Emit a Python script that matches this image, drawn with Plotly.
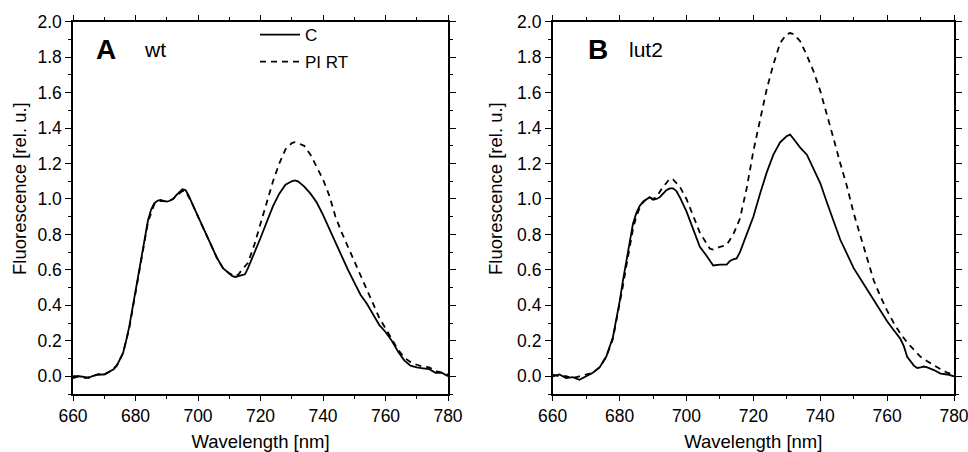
import plotly.graph_objects as go

# ---------------- data ----------------
wl_A_C = [660, 662, 664, 665, 666, 668, 670, 671, 672, 673, 674, 676, 677, 678, 679, 680, 681, 682, 683, 684,
          685, 686, 687, 688, 689, 690, 691, 692, 693, 694, 695, 696, 697, 698, 700, 702, 704, 706, 708, 710,
          711, 712, 713, 714, 715, 716, 718, 720, 722, 724, 726, 728, 730, 731, 732, 734, 736, 738, 740, 742,
          744, 746, 748, 750, 752, 754, 756, 758, 760, 762, 764, 766, 768, 770, 772, 774, 776, 778, 780]
val_A_C = [0.0, 0.0, -0.005, -0.01, 0.0, 0.01, 0.01, 0.02, 0.03, 0.04, 0.06, 0.13, 0.2, 0.28, 0.38, 0.48, 0.6, 0.7, 0.8, 0.88,
           0.94, 0.975, 0.99, 0.995, 0.99, 0.985, 0.99, 1.0, 1.02, 1.04, 1.055, 1.05, 1.02, 0.98, 0.9, 0.82, 0.74, 0.67, 0.61, 0.58,
           0.565, 0.56, 0.565, 0.57, 0.575, 0.61, 0.69, 0.78, 0.87, 0.96, 1.03, 1.08, 1.1, 1.105, 1.1, 1.07, 1.03, 0.98, 0.91, 0.83,
           0.76, 0.68, 0.6, 0.53, 0.46, 0.41, 0.35, 0.29, 0.25, 0.2, 0.14, 0.09, 0.06, 0.05, 0.045, 0.04, 0.02, 0.02, 0.0]

wl_A_PI = [660, 662, 664, 666, 668, 670, 672, 674, 676, 678, 680, 682, 684, 686, 688, 690, 692, 694, 695, 696,
           698, 700, 702, 704, 706, 708, 710, 712, 713, 714, 716, 718, 720, 722, 724, 726, 728, 730, 731, 732,
           734, 736, 738, 740, 742, 744, 746, 748, 750, 752, 754, 756, 758, 760, 762, 764, 766, 768, 770, 772,
           774, 776, 778, 780]
val_A_PI = [-0.01, 0.0, -0.01, 0.0, 0.01, 0.01, 0.03, 0.06, 0.13, 0.27, 0.47, 0.69, 0.87, 0.97, 0.99, 0.985, 1.0, 1.03, 1.045, 1.045,
            0.98, 0.9, 0.82, 0.74, 0.67, 0.61, 0.58, 0.565, 0.575, 0.6, 0.64, 0.74, 0.86, 0.97, 1.1, 1.2, 1.28, 1.315, 1.32, 1.315,
            1.3, 1.25, 1.18, 1.11, 1.02, 0.9, 0.81, 0.73, 0.65, 0.56, 0.48, 0.4, 0.33, 0.27, 0.21, 0.15, 0.105, 0.08, 0.065, 0.055,
            0.05, 0.03, 0.02, 0.01]

wl_B_C = [660, 662, 664, 666, 668, 670, 672, 674, 676, 678, 679, 680, 681, 682, 683, 684, 685, 686, 687, 688,
          689, 690, 691, 692, 693, 694, 695, 696, 697, 698, 700, 702, 704, 706, 707, 708, 710, 712, 713, 714,
          715, 716, 718, 720, 722, 724, 726, 728, 730, 731, 732, 734, 736, 738, 740, 742, 744, 746, 748, 750,
          752, 754, 756, 758, 760, 762, 764, 765, 766, 768, 769, 770, 771, 772, 774, 776, 778, 780]
val_B_C = [0.0, 0.01, -0.01, -0.005, -0.02, 0.0, 0.02, 0.05, 0.11, 0.22, 0.31, 0.42, 0.54, 0.65, 0.77, 0.86, 0.92, 0.96, 0.985, 1.0,
           1.01, 0.995, 1.0, 1.01, 1.03, 1.05, 1.06, 1.06, 1.045, 1.01, 0.93, 0.83, 0.73, 0.68, 0.65, 0.625, 0.63, 0.63, 0.65, 0.66,
           0.665, 0.7, 0.8, 0.9, 1.03, 1.15, 1.25, 1.32, 1.355, 1.363, 1.34, 1.29, 1.25, 1.17, 1.09, 0.98, 0.87, 0.77, 0.69, 0.61,
           0.55, 0.49, 0.43, 0.37, 0.31, 0.26, 0.21, 0.17, 0.11, 0.06, 0.047, 0.05, 0.055, 0.05, 0.035, 0.015, 0.01, 0.0]

wl_B_PI = [660, 662, 664, 666, 668, 670, 672, 674, 676, 678, 680, 681, 682, 683, 684, 685, 686, 687, 688, 689,
           690, 691, 692, 693, 694, 695, 696, 697, 698, 700, 702, 704, 706, 707, 708, 710, 712, 714, 716, 718,
           720, 722, 724, 726, 728, 730, 731, 732, 734, 736, 738, 740, 742, 744, 746, 748, 750, 752, 754, 756,
           758, 760, 762, 764, 766, 768, 770, 772, 774, 776, 778, 780]
val_B_PI = [0.01, 0.0, 0.0, -0.01, 0.0, 0.01, 0.02, 0.05, 0.11, 0.21, 0.4, 0.51, 0.62, 0.73, 0.83, 0.9, 0.95, 0.98, 1.0, 1.01,
            1.0, 1.01, 1.04, 1.07, 1.09, 1.115, 1.11, 1.09, 1.07, 1.0, 0.9, 0.81, 0.75, 0.72, 0.715, 0.73, 0.74, 0.8, 0.89, 1.06,
            1.27, 1.45, 1.62, 1.76, 1.88, 1.93, 1.936, 1.93, 1.89, 1.81, 1.72, 1.61, 1.48, 1.34, 1.2, 1.07, 0.92, 0.79, 0.67, 0.54,
            0.45, 0.37, 0.3, 0.24, 0.19, 0.15, 0.11, 0.085, 0.06, 0.04, 0.02, 0.01]

series_names = ["C", "PI RT"]
panel_letters = ["A", "B"]
panel_names = ["wt", "lut2"]
x_title = "Wavelength [nm]"
y_title = "Fluorescence [rel. u.]"
x_ticks = [660, 680, 700, 720, 740, 760, 780]
y_ticks = [0.0, 0.2, 0.4, 0.6, 0.8, 1.0, 1.2, 1.4, 1.6, 1.8, 2.0]

# ---------------- figure ----------------
W, H = 968, 452
FONT = "Liberation Sans, Arial, sans-serif"
TICK_SIZE = 17.5
TITLE_SIZE = 18.5
fig = go.Figure()

solid = dict(color="black", width=1.8)
dashed = dict(color="black", width=1.8, dash="6px,5px")

fig.add_trace(go.Scatter(x=wl_A_C, y=val_A_C, mode="lines", line=solid, name=series_names[0],
                         xaxis="x", yaxis="y", legendgroup="g1"))
fig.add_trace(go.Scatter(x=wl_A_PI, y=val_A_PI, mode="lines", line=dashed, name=series_names[1],
                         xaxis="x", yaxis="y", legendgroup="g2"))
fig.add_trace(go.Scatter(x=wl_B_C, y=val_B_C, mode="lines", line=solid, name=series_names[0],
                         xaxis="x2", yaxis="y2", showlegend=False))
fig.add_trace(go.Scatter(x=wl_B_PI, y=val_B_PI, mode="lines", line=dashed, name=series_names[1],
                         xaxis="x2", yaxis="y2", showlegend=False))

ydom = [1 - 394 / H, 1 - 21.7 / H]
xdomA = [73 / W, 448 / W]
xdomB = [552.7 / W, 954 / W]

def xax(dom, anchor):
    return dict(domain=dom, anchor=anchor, range=[660, 780], tickvals=x_ticks,
                ticks="outside", ticklen=5, tickwidth=1.2, tickcolor="black",
                minor=dict(dtick=10, ticks="outside", ticklen=3, tickwidth=1, tickcolor="black"),
                showline=True, linecolor="black", linewidth=1.5, mirror="allticks",
                showgrid=False, zeroline=False, ticklabeloverflow="allow",
                tickfont=dict(family=FONT, size=TICK_SIZE, color="black"),
                title=dict(text=x_title, font=dict(family=FONT, size=TITLE_SIZE, color="black"), standoff=11))

def yax(dom, anchor):
    return dict(domain=dom, anchor=anchor, range=[-0.1, 2.0], tickvals=y_ticks, tickformat=".1f",
                ticks="outside", ticklen=6, tickwidth=1.2, tickcolor="black",
                minor=dict(dtick=0.1, tick0=0, ticks="outside", ticklen=3, tickwidth=1, tickcolor="black"),
                showline=True, linecolor="black", linewidth=1.5, mirror="allticks",
                showgrid=False, zeroline=False, ticklabeloverflow="allow",
                tickfont=dict(family=FONT, size=TICK_SIZE, color="black"))

fig.update_layout(
    width=W, height=H,
    margin=dict(l=0, r=0, t=0, b=0, autoexpand=False),
    paper_bgcolor="white", plot_bgcolor="white",
    font=dict(family=FONT, color="black"),
    xaxis=xax(xdomA, "y"), yaxis=yax(ydom, "x"),
    xaxis2=xax(xdomB, "y2"), yaxis2=yax(ydom, "x2"),
    showlegend=True,
    legend=dict(x=255 / W, y=1 - 17 / H, xanchor="left", yanchor="top",
                bgcolor="rgba(0,0,0,0)", font=dict(family=FONT, size=17, color="black"),
                tracegroupgap=2, itemwidth=40),
)

# y-axis titles (slightly above the plot's vertical centre, as in the original)
for xt in (19, 495):
    fig.add_annotation(x=xt / W, y=1 - 189 / H, xref="paper", yref="paper", text=y_title,
                       textangle=-90, xanchor="center", yanchor="middle", showarrow=False,
                       font=dict(family=FONT, size=TITLE_SIZE, color="black"))

for letter, name, xl, xn in [(panel_letters[0], panel_names[0], 106, 155),
                             (panel_letters[1], panel_names[1], 598, 646)]:
    fig.add_annotation(x=xl / W, y=1 - 49 / H, xref="paper", yref="paper", text=f"<b>{letter}</b>",
                       xanchor="center", yanchor="middle",
                       showarrow=False, font=dict(family=FONT, size=28, color="black"))
    fig.add_annotation(x=xn / W, y=1 - 49 / H, xref="paper", yref="paper", text=name,
                       xanchor="center", yanchor="middle",
                       showarrow=False, font=dict(family=FONT, size=21, color="black"))

fig.write_html("out.html")
